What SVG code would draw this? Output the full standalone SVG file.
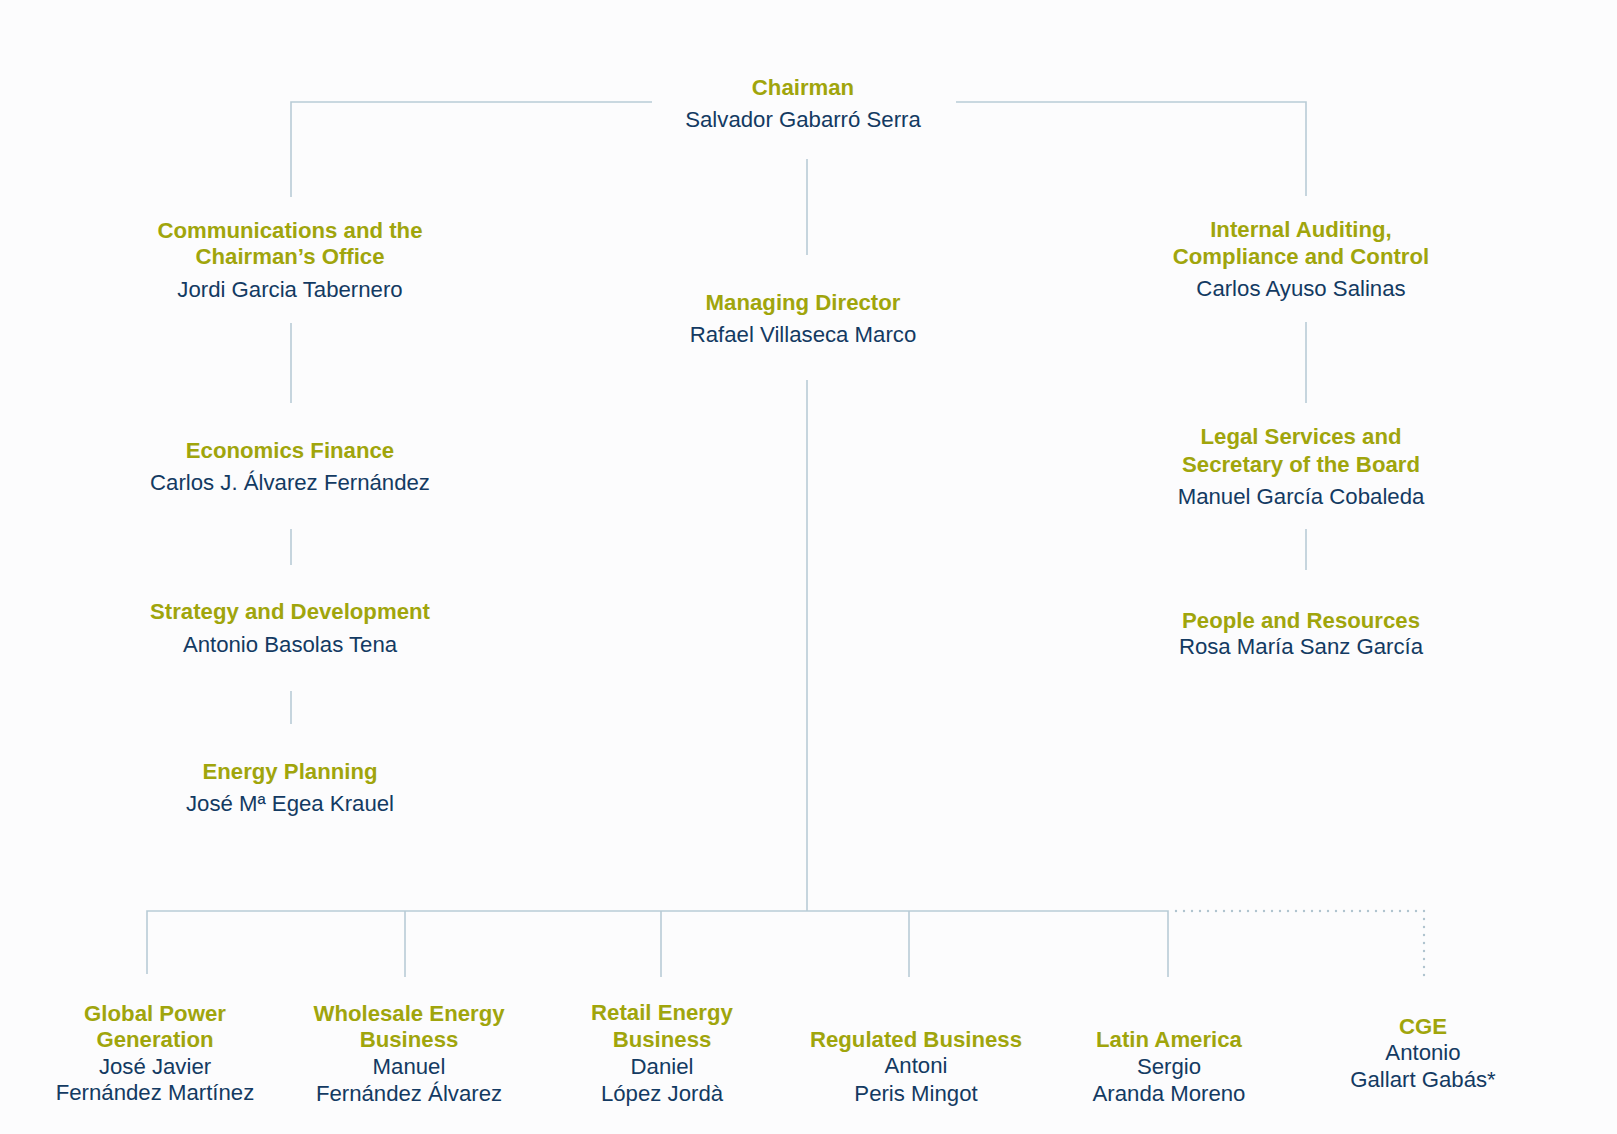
<svg xmlns="http://www.w3.org/2000/svg" width="1617" height="1134" viewBox="0 0 1617 1134">
<style>
.t{font-family:"Liberation Sans",Arial,sans-serif;font-weight:bold;font-size:22.2px;fill:#a0a50c;text-anchor:middle}
.n{font-family:"Liberation Sans",Arial,sans-serif;font-size:22.2px;fill:#133a62;text-anchor:middle}
.c{stroke:#b8cbd6;stroke-width:1.6;fill:none}
.d{stroke:#b0c4cf;stroke-width:2.4;fill:none;stroke-dasharray:0 8;stroke-linecap:round}
</style>
<rect width="1617" height="1134" fill="#fcfcfd"/>
<g id="connectors">
<path class="c" d="M291,197 V102 H652 M956,102 H1306 V196"/>
<path class="c" d="M807,159 V255"/>
<path class="c" d="M291,323 V403 M291,529 V565 M291,691 V724"/>
<path class="c" d="M1306,322 V403 M1306,529 V570"/>
<path class="c" d="M807,380 V911"/>
<path class="c" d="M147,974 V911 H1168 V977 M405,911 V977 M661,911 V977 M909,911 V977"/>
<path class="d" d="M1176,911 H1424 V981"/>
</g>
<g id="chairman"><text class="t" x="803" y="95">Chairman</text><text class="n" x="803" y="127">Salvador Gabarró Serra</text></g>
<g id="communications"><text class="t" x="290" y="238">Communications and the</text><text class="t" x="290" y="264">Chairman’s Office</text><text class="n" x="290" y="297">Jordi Garcia Tabernero</text></g>
<g id="internal-auditing"><text class="t" x="1301" y="237">Internal Auditing,</text><text class="t" x="1301" y="264">Compliance and Control</text><text class="n" x="1301" y="296">Carlos Ayuso Salinas</text></g>
<g id="managing-director"><text class="t" x="803" y="310">Managing Director</text><text class="n" x="803" y="342">Rafael Villaseca Marco</text></g>
<g id="economics-finance"><text class="t" x="290" y="458">Economics Finance</text><text class="n" x="290" y="490">Carlos J. Álvarez Fernández</text></g>
<g id="legal-services"><text class="t" x="1301" y="444">Legal Services and</text><text class="t" x="1301" y="472">Secretary of the Board</text><text class="n" x="1301" y="504">Manuel García Cobaleda</text></g>
<g id="strategy"><text class="t" x="290" y="619">Strategy and Development</text><text class="n" x="290" y="652">Antonio Basolas Tena</text></g>
<g id="people"><text class="t" x="1301" y="628">People and Resources</text><text class="n" x="1301" y="654">Rosa María Sanz García</text></g>
<g id="energy-planning"><text class="t" x="290" y="779">Energy Planning</text><text class="n" x="290" y="811">José Mª Egea Krauel</text></g>
<g id="global-power"><text class="t" x="155" y="1021">Global Power</text><text class="t" x="155" y="1047">Generation</text><text class="n" x="155" y="1074">José Javier</text><text class="n" x="155" y="1100">Fernández Martínez</text></g>
<g id="wholesale"><text class="t" x="409" y="1021">Wholesale Energy</text><text class="t" x="409" y="1047">Business</text><text class="n" x="409" y="1074">Manuel</text><text class="n" x="409" y="1101">Fernández Álvarez</text></g>
<g id="retail"><text class="t" x="662" y="1020">Retail Energy</text><text class="t" x="662" y="1047">Business</text><text class="n" x="662" y="1074">Daniel</text><text class="n" x="662" y="1101">López Jordà</text></g>
<g id="regulated"><text class="t" x="916" y="1047">Regulated Business</text><text class="n" x="916" y="1073">Antoni</text><text class="n" x="916" y="1101">Peris Mingot</text></g>
<g id="latin-america"><text class="t" x="1169" y="1047">Latin America</text><text class="n" x="1169" y="1074">Sergio</text><text class="n" x="1169" y="1101">Aranda Moreno</text></g>
<g id="cge"><text class="t" x="1423" y="1034">CGE</text><text class="n" x="1423" y="1060">Antonio</text><text class="n" x="1423" y="1087">Gallart Gabás*</text></g>
</svg>
